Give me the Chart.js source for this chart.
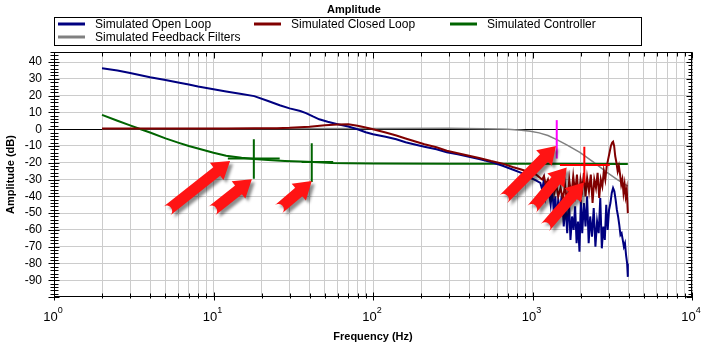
<!DOCTYPE html>
<html><head><meta charset="utf-8">
<script src="https://cdn.jsdelivr.net/npm/chart.js@4.4.1/dist/chart.umd.min.js"></script>
<style>html,body{margin:0;padding:0;background:#fff}canvas{display:block}</style>
</head><body>
<canvas id="c" width="704" height="347"></canvas>
<script>
// ---------- DATA ----------
const chartTitle = 'Amplitude';
const xTitle = 'Frequency (Hz)';
const yTitle = 'Amplitude (dB)';
const seriesNames = ['Simulated Open Loop', 'Simulated Closed Loop', 'Simulated Controller', 'Simulated Feedback Filters'];
const seriesColors = ['#000080', '#800000', '#006400', '#808080'];

const yTickValues = [40, 30, 20, 10, 0, -10, -20, -30, -40, -50, -60, -70, -80, -90];
const xDecadeExponents = [0, 1, 2, 3, 4];

const openLoopFreq = [2,2.5,3,4,5,6,7,8,10,12,15,18,22,26,30,35,38,42,46,52,60,70,80,90,100,120,140,160,180,210,250,290,340,400,470,550,650,750,850,950,1050,1120,
  1150,1180,1210,1240,1270,1300,1330,1360,1390,1420,1450,1490,1530,1570,1610,1650,1690,1730,1770,1810,1850,1890,1930,1970,2010,2050,2100,2150,2200,2250,2300,2360,2420,2480,2540,2600,2660,2720,2780,2840,2900,2960,3020,3080,3140,3200,3260,3320,3380,3440,3500,3560,3620,3680,3740,3800,3860,3920,3960];
const openLoopDb = [36.3,35,33.5,31,29.3,27.8,26.6,25.4,23.8,22.5,21,19.7,16.8,14.3,12.4,10.8,9.6,7.6,5.9,4.4,3,1.6,0,-1.8,-3,-4.5,-6,-7.8,-9,-10.5,-12,-13.7,-15,-16.5,-18,-19.6,-21.8,-24,-26,-28.5,-30.5,-32,
  -36,-30,-40,-33,-38,-45,-35,-50,-40,-54,-42,-48,-38,-58,-45,-62,-40,-66,-52,-60,-46,-68,-55,-73,-42,-62,-44,-58,-40,-68,-52,-64,-47,-70,-55,-62,-41,-71,-58,-66,-45,-60,-48,-44,-38,-35,-37,-42,-48,-52,-57,-63,-62,-66,-70,-68,-75,-80,-88];

const closedLoopFreq = [2,3,5,8,12,18,25,30,40,50,60,70,80,90,100,120,140,160,180,210,250,290,340,400,470,550,650,750,850,950,1050,1150,
  1180,1210,1250,1290,1330,1370,1410,1450,1500,1550,1600,1650,1700,1750,1800,1850,1900,1950,2000,2050,2100,2150,2200,2260,2320,2380,2440,2500,2560,2620,2680,2740,2800,2860,2920,2980,3040,3100,3160,3200,3250,3300,3360,3420,3480,3540,3600,3660,3720,3780,3840,3900,3960];
const closedLoopDb = [0.4,0.4,0.4,0.4,0.4,0.5,0.6,0.8,1.5,2.3,2.8,3,2,1,0,-2,-3.8,-5.5,-7,-9,-10.8,-12.8,-14.3,-15.8,-17.3,-19,-20.5,-22.5,-24,-25.5,-27,-30,
  -28,-33,-30,-36,-31,-38,-33,-40,-35,-42,-33,-45,-30,-40,-28,-38,-27,-42,-30,-36,-26,-40,-29,-37,-27,-44,-30,-35,-26,-41,-30,-34,-25,-30,-22,-18,-14,-10,-8,-7.5,-10,-16,-20,-25,-22,-27,-33,-30,-38,-33,-40,-36,-50];

const controllerFreq = [2,2.5,3,3.5,4,5,6,7,8,10,12,15,18,22,28,35,42,55,70,100,300,1000,3960];
const controllerDb = [8.5,5,2.3,0,-2,-5.5,-8,-10,-11.5,-14,-15.8,-17,-17.8,-18.3,-18.9,-19.3,-19.6,-20.1,-20.3,-20.5,-20.6,-20.6,-20.8];

const filterFreq = [2,100,300,500,700,850,970,1100,1250,1430,1650,1980,2400,2930,3400,3960];
const filterDb = [0.2,0.4,0.5,0.3,0,-0.6,-1.2,-2.2,-3.8,-6.4,-9.5,-13.8,-19.5,-25.7,-30,-33.9];

// marker crosses: frequency, level, horizontal span (Hz), vertical span (dB)
const markerFreq   = [17.9, 41.3, 1419, 2113];
const markerDb     = [-17.5, -19.5, -6, -21.3];
const markerFLo    = [12.3, 35.7, 1419, 1486];
const markerFHi    = [26, 56.3, 1419, 3050];
const markerDbTop  = [-6, -8.4, 5.4, -10.4];
const markerDbBot  = [-29.5, -31.5, -17.5, -31.8];
const markerColors = ['#006400', '#006400', '#ff00ff', '#ff0000'];

// annotation arrows: tail -> head in data units
const arrowTailF  = [5.09, 9.74, 25.5, 656, 988, 1197];
const arrowTailDb = [-48.8, -48.8, -47.8, -41.8, -47.8, -58.7];
const arrowHeadF  = [12.7, 17.4, 41.3, 1403, 1638, 2103];
const arrowHeadDb = [-18.9, -29.9, -30.9, -10, -22.9, -31.8];

// ---------- CHART ----------
const zip = (fx, fy) => fx.map((f, i) => ({x: f, y: fy[i]}));
const xGridValues = [];
for (let e = 0; e < 4; e++) for (let m = 1; m <= 9; m++) xGridValues.push(m * Math.pow(10, e));
xGridValues.push(10000);
const yMinorValues = [];
for (let v = -100; v <= 46; v += 2) yMinorValues.push(v);

const FONT = '"Liberation Sans", Arial, sans-serif';

const decor = {
  id: 'decor',
  beforeDatasetsDraw(chart) {
    const {ctx, chartArea: a, scales: {y}} = chart;
    ctx.save();
    ctx.strokeStyle = '#000'; ctx.lineWidth = 1;
    const y0 = Math.round(y.getPixelForValue(0)) + 0.5;
    ctx.beginPath(); ctx.moveTo(a.left, y0); ctx.lineTo(a.right, y0); ctx.stroke();
    ctx.restore();
  },
  afterDatasetsDraw(chart) {
    const {ctx, chartArea: a, scales: {x, y}} = chart;
    ctx.save();
    // markers
    ctx.lineWidth = 2;
    markerFreq.forEach((f, i) => {
      ctx.strokeStyle = markerColors[i];
      const px = x.getPixelForValue(f), py = y.getPixelForValue(markerDb[i]);
      ctx.beginPath();
      ctx.moveTo(px, y.getPixelForValue(markerDbTop[i])); ctx.lineTo(px, y.getPixelForValue(markerDbBot[i]));
      if (markerFHi[i] > markerFLo[i]) { ctx.moveTo(x.getPixelForValue(markerFLo[i]), py); ctx.lineTo(x.getPixelForValue(markerFHi[i]), py); }
      ctx.stroke();
    });
    // border
    ctx.lineWidth = 1; ctx.strokeStyle = '#000';
    const L = Math.round(a.left) + 0.5, R = Math.round(a.right) - 0.5, T = Math.round(a.top) + 0.5, B = Math.round(a.bottom) - 0.5;
    ctx.strokeRect(L, T, R - L, B - T);
    ctx.beginPath();
    // x ticks
    xGridValues.forEach(v => {
      const px = Math.round(x.getPixelForValue(v)) + 0.5;
      const major = Math.abs(Math.log10(v) - Math.round(Math.log10(v))) < 1e-9;
      ctx.moveTo(px, T); ctx.lineTo(px, T + (major ? 6 : 4));
      ctx.moveTo(px, B - (major ? 4 : 3)); ctx.lineTo(px, B + (major ? 4 : 2));
    });
    // y ticks
    yMinorValues.forEach(v => {
      const py = Math.round(y.getPixelForValue(v)) + 0.5;
      const major = v % 10 === 0;
      ctx.moveTo(L - (major ? 6 : 4), py); ctx.lineTo(L + (major ? 5 : 4), py);
      ctx.moveTo(R - (major ? 5 : 3), py); ctx.lineTo(R + 1, py);
    });
    ctx.stroke();
    // arrows
    ctx.fillStyle = '#ff1414';
    ctx.shadowColor = 'rgba(0,0,0,0.45)'; ctx.shadowOffsetX = 3; ctx.shadowOffsetY = 3; ctx.shadowBlur = 3;
    arrowTailF.forEach((f, i) => {
      const tx = x.getPixelForValue(f), ty = y.getPixelForValue(arrowTailDb[i]);
      const hx = x.getPixelForValue(arrowHeadF[i]), hy = y.getPixelForValue(arrowHeadDb[i]);
      const len = Math.hypot(hx - tx, hy - ty), dx = (hx - tx) / len, dy = (hy - ty) / len;
      const nx = -dy, ny = dx, HL = 17, HW = 11, w = 5.5;
      const bx = hx - dx * HL, by = hy - dy * HL;
      ctx.beginPath();
      ctx.moveTo(tx + nx * w, ty + ny * w);
      ctx.lineTo(bx + nx * w, by + ny * w);
      ctx.lineTo(bx + nx * HW, by + ny * HW);
      ctx.lineTo(hx, hy);
      ctx.lineTo(bx - nx * HW, by - ny * HW);
      ctx.lineTo(bx - nx * w, by - ny * w);
      ctx.lineTo(tx - nx * w, ty - ny * w);
      ctx.arc(tx, ty, w, Math.atan2(-ny, -nx), Math.atan2(ny, nx), false);
      ctx.closePath();
      ctx.fill();
    });
    ctx.restore();
  },
  afterDraw(chart) {
    const {ctx, chartArea: a, scales: {x, y}} = chart;
    ctx.save();
    ctx.fillStyle = '#000';
    // title
    ctx.font = 'bold 11px ' + FONT; ctx.textAlign = 'center'; ctx.textBaseline = 'middle';
    ctx.fillText(chartTitle, 354, 10);
    // legend
    ctx.strokeStyle = '#000'; ctx.lineWidth = 1;
    ctx.strokeRect(54.5, 17.5, 587, 28);
    ctx.font = '12px ' + FONT; ctx.textAlign = 'left';
    seriesNames.forEach((n, i) => {
      const col = i % 3, row = Math.floor(i / 3);
      const lx = 58 + col * 196, ly = 24 + row * 13;
      ctx.strokeStyle = seriesColors[i]; ctx.lineWidth = 3;
      ctx.beginPath(); ctx.moveTo(lx, ly); ctx.lineTo(lx + 27, ly); ctx.stroke();
      ctx.fillStyle = '#000';
      ctx.fillText(n, lx + 37, ly + 0.5);
    });
    // y tick labels
    ctx.font = '12px ' + FONT; ctx.textAlign = 'right'; ctx.textBaseline = 'middle';
    yTickValues.forEach(v => ctx.fillText(String(v), 42, y.getPixelForValue(v)));
    // x tick labels with superscripts
    xDecadeExponents.forEach(e => {
      const px = x.getPixelForValue(Math.pow(10, e));
      ctx.font = '13px ' + FONT;
      const w1 = ctx.measureText('10').width;
      ctx.font = '9px ' + FONT;
      const w2 = ctx.measureText(String(e)).width;
      const left = px - (w1 + w2) / 2 - 1;
      ctx.textAlign = 'left'; ctx.textBaseline = 'alphabetic';
      ctx.font = '13px ' + FONT; ctx.fillText('10', left, 321);
      ctx.font = '9px ' + FONT; ctx.fillText(String(e), left + w1, 313);
    });
    // axis titles
    ctx.font = 'bold 11px ' + FONT; ctx.textAlign = 'center'; ctx.textBaseline = 'middle';
    ctx.fillText(xTitle, (a.left + a.right) / 2, 337);
    ctx.translate(11, (a.top + a.bottom) / 2);
    ctx.rotate(-Math.PI / 2);
    ctx.fillText(yTitle, 0, 0);
    ctx.restore();
  }
};

const mk = (i, fx, fy, w) => ({
  label: seriesNames[i], data: zip(fx, fy), borderColor: seriesColors[i], backgroundColor: seriesColors[i],
  borderWidth: w, pointRadius: 0, tension: 0, fill: false
});

new Chart(document.getElementById('c'), {
  type: 'line',
  data: { datasets: [
    mk(1, closedLoopFreq, closedLoopDb, 2),
    mk(0, openLoopFreq, openLoopDb, 2),
    mk(2, controllerFreq, controllerDb, 2),
    mk(3, filterFreq, filterDb, 1.5)
  ]},
  options: {
    responsive: false, animation: false, devicePixelRatio: 1,
    layout: { padding: { top: 52, right: 12, left: 0, bottom: 0 } },
    plugins: { legend: { display: false }, title: { display: false }, tooltip: { enabled: false } },
    scales: {
      x: {
        type: 'logarithmic', min: 1, max: 10000,
        afterBuildTicks: s => { s.ticks = xGridValues.map(v => ({value: v})); },
        ticks: { display: false },
        grid: { color: '#cccccc', lineWidth: 1, drawTicks: false },
        border: { display: false },
        afterFit: s => { s.height = 50; }
      },
      y: {
        type: 'linear', min: -100, max: 46,
        afterBuildTicks: s => { s.ticks = yTickValues.map(v => ({value: v})); },
        ticks: { display: false },
        grid: { color: '#cccccc', lineWidth: 1, drawTicks: false },
        border: { display: false },
        afterFit: s => { s.width = 54; }
      }
    }
  },
  plugins: [decor]
});
</script>
</body></html>
